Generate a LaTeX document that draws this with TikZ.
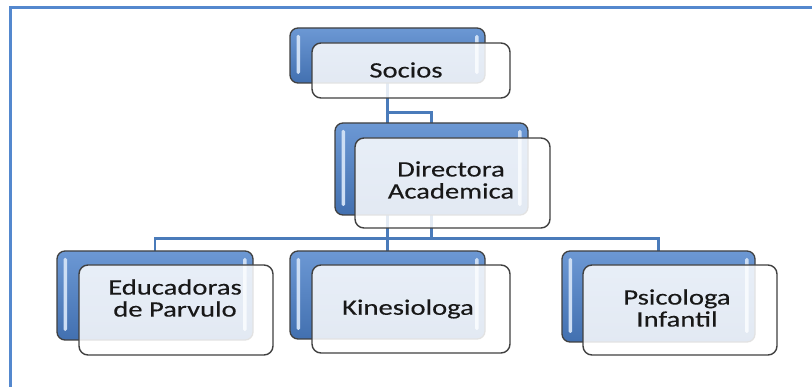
\documentclass[tikz,border=0pt]{standalone}
\usepackage{fontspec}
\setmainfont{Carlito}[FakeStretch=1.3,FakeBold=0.3]
\pgfdeclarelayer{back}
\pgfsetlayers{back,main}
\definecolor{framec}{RGB}{84,136,206}
\definecolor{connc}{RGB}{74,123,186}
\definecolor{bluetop}{RGB}{108,152,212}
\definecolor{bluebot}{RGB}{66,112,176}
\definecolor{edgec}{RGB}{64,64,64}
\definecolor{hilite}{RGB}{205,222,244}
\definecolor{txtc}{RGB}{24,24,24}
\tikzset{
  bluebox/.style={draw=edgec, line width=1.3pt, rounded corners=8pt,
    top color=bluetop, bottom color=bluebot, inner sep=0pt,
    path picture={
      \fill[hilite, rounded corners=1.5pt]
        ([xshift=6.5pt,yshift=-7pt]path picture bounding box.north west) rectangle
        ([xshift=10pt,yshift=9pt]path picture bounding box.south west);
      \fill[hilite, rounded corners=1.5pt]
        ([xshift=-10pt,yshift=-7pt]path picture bounding box.north east) rectangle
        ([xshift=-6.5pt,yshift=9pt]path picture bounding box.south east);
    }},
  whitebox/.style={draw=edgec, line width=1.4pt, rounded corners=9pt,
    fill=white, fill opacity=0.85, inner sep=0pt},
  lbl/.style={text=txtc, align=center, inner sep=0pt,
    font=\fontsize{22pt}{22pt}\selectfont},
  conn/.style={draw=connc, line width=2.6pt},
  framel/.style={draw=framec, line width=2.2pt}
}
\begin{document}
\begin{tikzpicture}[x=1pt,y=-1pt]
\useasboundingbox (0,0) rectangle (812,387);
\begin{pgfonlayer}{back}
\draw[framel] (10.5,387) -- (10.5,7.5) -- (812,7.5);
\end{pgfonlayer}

% blue boxes
\node[bluebox, minimum width=195pt, minimum height=55pt] (socB) at (387.5,55.5) {};
\node[bluebox, minimum width=193pt, minimum height=92pt] (dirB) at (431.5,169) {};
\node[bluebox, minimum width=196pt, minimum height=89pt] (eduB) at (155,295.5) {};
\node[bluebox, minimum width=195pt, minimum height=88pt] (kinB) at (387.5,295) {};
\node[bluebox, minimum width=193pt, minimum height=91pt] (psiB) at (658.5,296.5) {};

% connectors (behind boxes)
\path (socB.south) ++(0,29) coordinate (j1);
\path (dirB.south) ++(0,23) coordinate (j2);
\begin{pgfonlayer}{back}
\draw[conn] (socB.center) -- (kinB.center);
\draw[conn] (j1) -| (dirB.center);
\draw[conn] (dirB.center) -- (j2);
\draw[conn] (eduB.center) |- (j2) -| (psiB.center);
\end{pgfonlayer}

% white boxes
\node[whitebox, minimum width=198pt, minimum height=55pt] (socW) at (411,70.5) {};
\node[whitebox, minimum width=195pt, minimum height=90pt] (dirW) at (452.5,183) {};
\node[whitebox, minimum width=194pt, minimum height=90pt] (eduW) at (176,310) {};
\node[whitebox, minimum width=198pt, minimum height=88pt] (kinW) at (411,309) {};
\node[whitebox, minimum width=194pt, minimum height=90pt] (psiW) at (680,310) {};

% labels
\node[lbl] (socT) at (406,70) {Socios};
\node[lbl] (dirT) at (451,180) {Directora\\Academica};
\node[lbl] (eduT) at (175,298) {Educadoras\\de Parvulo};
\node[lbl] (kinT) at (408,309) {Kinesiologa};
\node[lbl] (psiT) at (677,308) {Psicologa\\Infantil};
\end{tikzpicture}
\end{document}
